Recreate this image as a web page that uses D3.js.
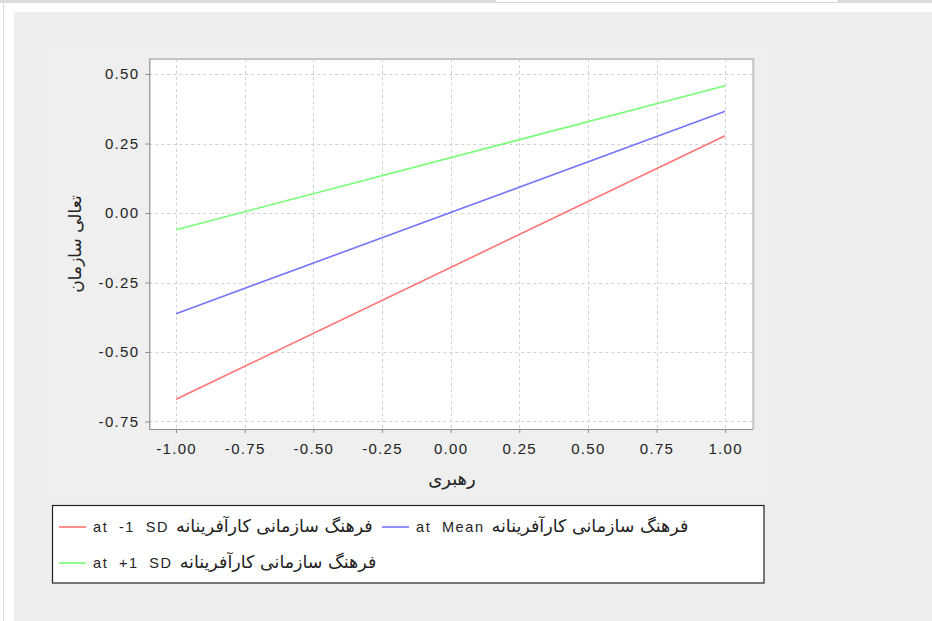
<!DOCTYPE html>
<html>
<head>
<meta charset="utf-8">
<script src="https://cdn.jsdelivr.net/npm/d3@7/dist/d3.min.js"></script>
<style>
  html, body { margin: 0; padding: 0; background: #ffffff; }
  svg { display: block; }
  text { font-family: "Liberation Sans", "DejaVu Sans", sans-serif; fill: #222; }
</style>
</head>
<body>
<svg id="chart" width="932" height="621"></svg>
<script>
// Simple slopes: organizational excellence vs. leadership at three levels of the moderator
const xValues = [-1, 1];
const lowSD = [-0.670, 0.278];
const meanLevel = [-0.362, 0.366];
const highSD = [-0.060, 0.458];

const seriesNames = [
  ["at -1 SD", "فرهنگ سازمانی کارآفرینانه"],
  ["at Mean", "فرهنگ سازمانی کارآفرینانه"],
  ["at +1 SD", "فرهنگ سازمانی کارآفرینانه"]
];
const seriesColors = ["#ff7474", "#7474ff", "#74ff74"];

const xTicks = [-1.00, -0.75, -0.50, -0.25, 0.00, 0.25, 0.50, 0.75, 1.00];
const yTicks = [-0.75, -0.50, -0.25, 0.00, 0.25, 0.50];

const xTitle = "رهبری";
const yTitle = "تعالی سازمان";

const svg = d3.select("#chart");

// page chrome
svg.append("rect").attr("x", 0).attr("y", 0).attr("width", 932).attr("height", 3).attr("fill", "#dcdcdc");
svg.append("rect").attr("x", 495.5).attr("y", -1).attr("width", 343).attr("height", 3.5)
  .attr("fill", "#ffffff").attr("stroke", "#d4d4d4");
svg.append("rect").attr("x", 3).attr("y", 3).attr("width", 1.2).attr("height", 618).attr("fill", "#dddddd");
svg.append("rect").attr("x", 14).attr("y", 12).attr("width", 918).attr("height", 609).attr("fill", "#eeeeee");
svg.append("rect").attr("x", 49).attr("y", 47).attr("width", 719).attr("height", 454).attr("fill", "#efefef");

const plot = { left: 149.3, right: 753.3, top: 59, bottom: 429 };

const x = d3.scaleLinear().domain([-1.0975, 1.1025]).range([plot.left, plot.right]);
const y = d3.scaleLinear().domain([-0.777, 0.554]).range([plot.bottom, plot.top]);

// plot background
svg.append("rect")
  .attr("x", plot.left).attr("y", plot.top)
  .attr("width", plot.right - plot.left).attr("height", plot.bottom - plot.top)
  .attr("fill", "#ffffff");

// dashed gridlines
const grid = svg.append("g").attr("stroke", "#d2d2d2").attr("stroke-width", 1).attr("stroke-dasharray", "3,3");
grid.selectAll("line.vx").data(xTicks).join("line")
  .attr("x1", d => Math.round(x(d)) + 0.5).attr("x2", d => Math.round(x(d)) + 0.5)
  .attr("y1", plot.top).attr("y2", plot.bottom);
grid.selectAll("line.hy").data(yTicks).join("line")
  .attr("x1", plot.left).attr("x2", plot.right)
  .attr("y1", d => Math.round(y(d)) + 0.5).attr("y2", d => Math.round(y(d)) + 0.5);

// outline on top and right
svg.append("path")
  .attr("d", `M${plot.left},${plot.top}H${plot.right}V${plot.bottom}`)
  .attr("fill", "none").attr("stroke", "#c4c4c4").attr("stroke-width", 2);

// series lines
const allSeries = [lowSD, meanLevel, highSD];
const line = d3.line().x(d => x(d[0])).y(d => y(d[1]));
svg.append("g").selectAll("path").data(allSeries).join("path")
  .attr("d", vals => line(xValues.map((xv, i) => [xv, vals[i]])))
  .attr("fill", "none")
  .attr("stroke", (d, i) => seriesColors[i])
  .attr("stroke-width", 1.6);

// axes (plain hyphen-minus for negative ticks)
const fmt = v => d3.format(".2f")(v).replace("\u2212", "-");
const xAxis = d3.axisBottom(x).tickValues(xTicks).tickFormat(fmt).tickSize(4).tickPadding(10);
const yAxis = d3.axisLeft(y).tickValues(yTicks).tickFormat(fmt).tickSize(4).tickPadding(6);

const gx = svg.append("g").attr("transform", `translate(0,${plot.bottom})`).call(xAxis);
const gy = svg.append("g").attr("transform", `translate(${plot.left},0)`).call(yAxis);

[gx, gy].forEach(g => {
  g.select(".domain").attr("stroke", "#8c8c8c").attr("stroke-width", 1.2);
  g.selectAll(".tick line").attr("stroke", "#8c8c8c");
  g.selectAll(".tick text")
    .attr("fill", "#222")
    .style("font-family", "'Liberation Sans', sans-serif")
    .style("font-size", "15px")
    .style("letter-spacing", "1.3px");
});
gy.select(".domain").attr("d", `M0.5,${plot.top}V${plot.bottom}`);
gx.select(".domain").attr("d", `M${plot.left},0.5H${plot.right}`);

// axis titles
svg.append("text")
  .attr("x", 452).attr("y", 485)
  .attr("text-anchor", "middle")
  .style("font-family", "'DejaVu Sans', sans-serif")
  .style("font-size", "18px")
  .text(xTitle);

svg.append("text")
  .attr("transform", "translate(81,244) rotate(-90)")
  .attr("text-anchor", "middle")
  .style("font-family", "'DejaVu Sans', sans-serif")
  .style("font-size", "17px")
  .text(yTitle);

// legend
const legend = svg.append("g");
legend.append("rect")
  .attr("x", 52.5).attr("y", 505.5).attr("width", 711.5).attr("height", 77.5)
  .attr("fill", "#ffffff").attr("stroke", "#222").attr("stroke-width", 1.2);

const legendPos = [[59, 527], [382, 527], [59, 563]];
seriesNames.forEach((name, i) => {
  const [lx, ly] = legendPos[i];
  legend.append("line")
    .attr("x1", lx).attr("x2", lx + 27).attr("y1", ly).attr("y2", ly)
    .attr("stroke", seriesColors[i]).attr("stroke-width", 1.6);
  const t = legend.append("text")
    .attr("x", lx + 34).attr("y", ly + 5)
    .style("font-size", "14.5px");
  const latin = t.append("tspan")
    .style("font-family", "'Liberation Sans', sans-serif")
    .style("letter-spacing", "1.6px")
    .style("word-spacing", "5px")
    .text(name[0]);
  legend.append("text")
    .attr("x", lx + 34 + latin.node().getComputedTextLength() + 7)
    .attr("y", ly + 5)
    .style("font-family", "'DejaVu Sans', sans-serif")
    .style("font-size", "17.5px")
    .attr("direction", "rtl")
    .attr("text-anchor", "end")
    .text(name[1]);
});
</script>
</body>
</html>
